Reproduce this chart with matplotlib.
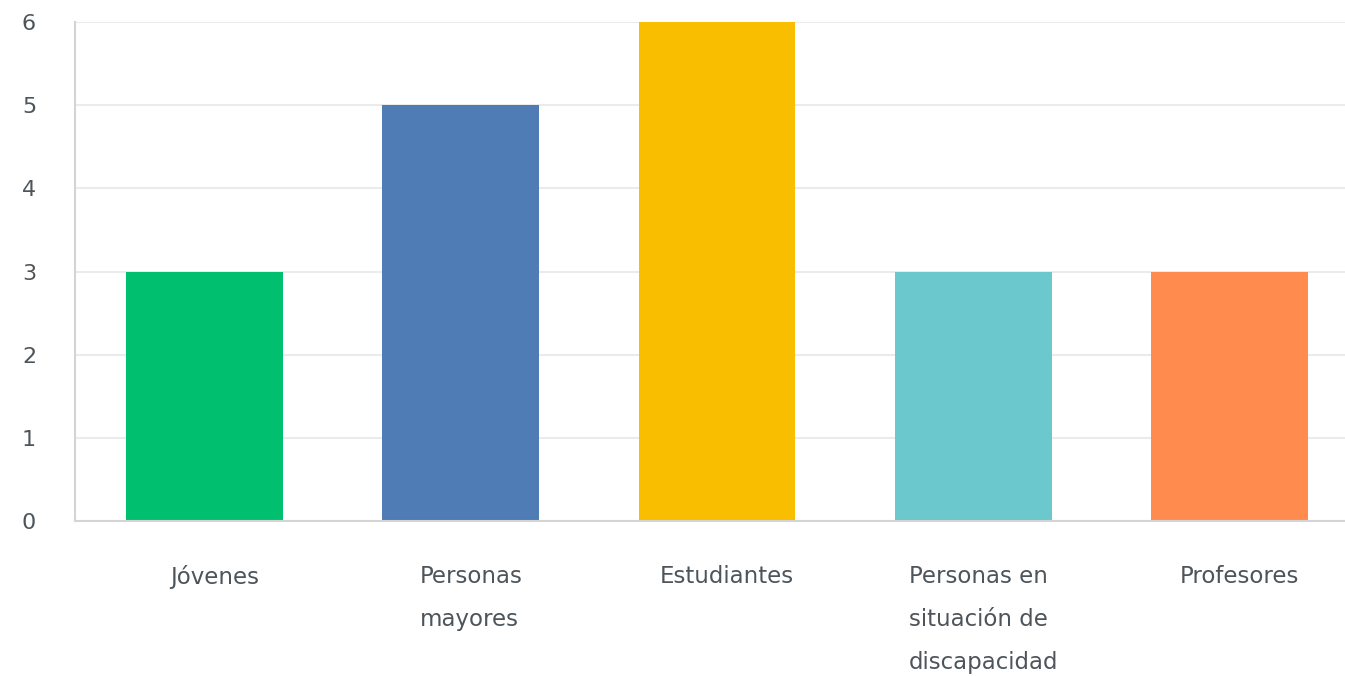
import numpy as np
import matplotlib.pyplot as plt

categorias = ['Jóvenes', 'Personas\nmayores', 'Estudiantes',
              'Personas en\nsituación de\ndiscapacidad', 'Profesores']
valores = [3, 5, 6, 3, 3]
colores = ['#00BF6F', '#507CB6', '#F9BE00', '#6BC8CD', '#FF8B4F']
yticks = [0, 1, 2, 3, 4, 5, 6]

texto = '#4d555b'

fig = plt.figure(figsize=(13.45, 6.76), dpi=100)
ax = fig.add_axes([75 / 1345, 1 - 521 / 676, 1 - 75 / 1345, (521 - 22) / 676])

x = np.arange(len(categorias))
ax.bar(x, valores, width=0.612, color=colores, zorder=2)

ax.set_xlim(-0.505, 4.45)
ax.set_ylim(0, 6)
ax.set_yticks(yticks)
ax.set_yticklabels([str(v) for v in yticks], fontsize=16, color=texto)
ax.set_xticks(x + 0.04)
ax.set_xticklabels(categorias, fontsize=16.5, color=texto, linespacing=2.1,
                   multialignment='left', va='top')

ax.grid(axis='y', color='#ebebeb', linewidth=1.5, zorder=0)
ax.tick_params(axis='both', length=0)
ax.tick_params(axis='y', pad=28)
ax.tick_params(axis='x', pad=32)

for s in ['top', 'right']:
    ax.spines[s].set_visible(False)
ax.spines['left'].set_color('#d4d4d4')
ax.spines['bottom'].set_color('#d4d4d4')
ax.spines['left'].set_linewidth(1.5)
ax.spines['bottom'].set_linewidth(1.5)

fig.savefig('out.png', dpi=100)
